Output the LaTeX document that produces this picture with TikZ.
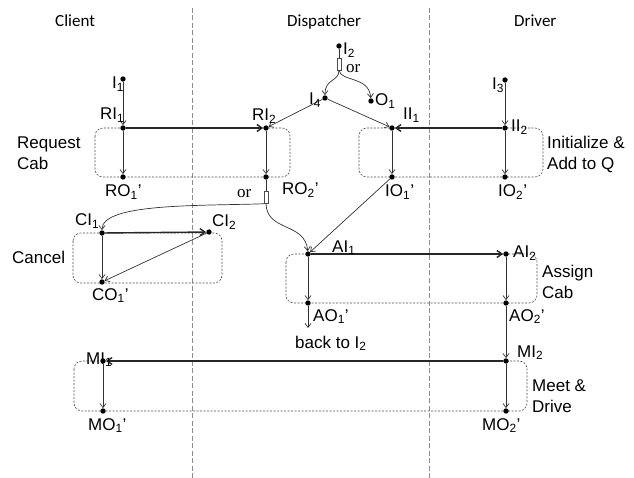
\documentclass[tikz,border=0pt]{standalone}
\usepackage{fontspec}
\setmainfont{Liberation Sans}
\newfontfamily\headfont{Carlito}
\newfontfamily\orfont{Liberation Serif}
\usetikzlibrary{arrows.meta,backgrounds}
\tikzset{
  dot/.style={circle,fill=black,inner sep=0pt,minimum size=5.4pt},
  orbox/.style={rectangle,draw=black!70,fill=white,line width=0.5pt,inner sep=0pt,minimum width=3.5pt,minimum height=12pt},
  lbl/.style={font=\fontsize{17}{21}\selectfont,inner sep=0pt,anchor=base west},
  side/.style={font=\fontsize{17}{21}\selectfont,inner sep=0pt,anchor=west,align=left},
  orlbl/.style={font=\orfont\fontsize{17}{21}\selectfont,inner sep=0pt,anchor=base west},
  head/.style={font=\headfont\fontsize{17}{21}\selectfont,inner sep=0pt,anchor=base west},
  ln/.style={draw=black!80,line width=0.7pt},
  arr/.style={ln,-{Straight Barb[length=4pt,width=6pt]}},
  thickarr/.style={draw=black!85,line width=1.4pt,-{Straight Barb[length=5pt,width=7pt]}},
  taskbox/.style={draw=black!70,dash pattern=on 2pt off 1.5pt,line width=0.6pt,rounded corners=8pt},
  divider/.style={draw=black!45,dash pattern=on 5pt off 2.5pt,line width=0.9pt}
}
\begin{document}
\begin{tikzpicture}[x=1pt,y=-1pt]
\useasboundingbox (0,0) rectangle (634,478);
\node[head] (hClient) at (55,27) {Client};
\node[head] (hDisp) at (287,27) {Dispatcher};
\node[head] (hDriver) at (514,27) {Driver};
\node[dot] (I1) at (123,79) {};
\node[dot] (RI1) at (123,128) {};
\node[dot] (RO1) at (123,177) {};
\node[dot] (RI2) at (266,128) {};
\node[dot] (RO2) at (266,177) {};
\node[dot] (I2) at (339,46) {};
\node[orbox] (orA) at (339,64) {};
\node[dot] (I4) at (325,98) {};
\node[dot] (O1) at (371,101) {};
\node[dot] (II1) at (392,128) {};
\node[dot] (IO1) at (392,177) {};
\node[dot] (I3) at (505,80) {};
\node[dot] (II2) at (505,128) {};
\node[dot] (IO2) at (505,177) {};
\node[orbox] (orB) at (266,197.5) {};
\node[dot] (CI1) at (102,233) {};
\node[dot] (CI2) at (209,232) {};
\node[dot] (CO1) at (102,282) {};
\node[dot] (AI1) at (308,254) {};
\node[dot] (AI2) at (506,254) {};
\node[dot] (AO1) at (308,303) {};
\node[dot] (AO2) at (506,303) {};
\coordinate (back) at (308,328);
\node[dot] (MI1) at (103,361) {};
\node[dot] (MI2) at (506,361) {};
\node[dot] (MO1) at (103,411) {};
\node[dot] (MO2) at (506,411) {};
\begin{scope}[on background layer]
\draw[divider] (192,8) -- (192,478);
\draw[divider] (429,8) -- (429,478);
\draw[taskbox] (95,128) rectangle (290,177);
\draw[taskbox] (359,128) rectangle (543,177);
\draw[taskbox] (73,233) rectangle (222,283);
\draw[taskbox] (286,254) rectangle (537,303);
\draw[taskbox] (74,361) rectangle (527,411);
\end{scope}
\draw[arr] (I1) -- (RI1);
\draw[thickarr] (RI1) -- (RI2);
\draw[arr] (RI1) -- (RO1);
\draw[arr] (RI2) -- (RO2);
\draw[ln] (I2) -- (orA);
\draw[arr] (orA.south) .. controls (339,82) and (325,78) .. (I4);
\draw[arr] (orA.south) .. controls (341,82) and (369,76) .. (O1);
\draw[arr] (I4) -- (RI2);
\draw[arr] (I4) -- (II1);
\draw[thickarr] (II2) -- (II1);
\draw[arr] (I3) -- (II2);
\draw[arr] (II1) -- (IO1);
\draw[arr] (II2) -- (IO2);
\draw[ln] (RO2) -- (orB);
\draw[arr] (orB.south west) .. controls (200,206) and (102,203) .. (CI1);
\draw[arr] (orB.south) .. controls (267,232) and (305,222) .. (AI1);
\draw[arr] (IO1) -- (AI1);
\draw[thickarr] (CI1) -- (CI2);
\draw[arr] (CI1) -- (CO1);
\draw[arr] (CI2) -- (CO1);
\draw[thickarr] (AI1) -- (AI2);
\draw[arr] (AI1) -- (AO1);
\draw[arr] (AI2) -- (AO2);
\draw[arr] (AO1) -- (back);
\draw[arr] (AO2) -- (MI2);
\draw[thickarr] (MI2) -- (MI1);
\draw[arr] (MI1) -- (MO1);
\draw[arr] (MI2) -- (MO2);
\node[lbl] (tI1) at (112,89) {I\textsubscript{1}};
\node[lbl] (tRI1) at (100,120) {RI\textsubscript{1}};
\node[lbl] (tRO1) at (105,197) {RO\textsubscript{1}'};
\node[lbl] (tRI2) at (252,121) {RI\textsubscript{2}};
\node[lbl] (tRO2) at (282,195) {RO\textsubscript{2}'};
\node[lbl] (tI2) at (343,55) {I\textsubscript{2}};
\node[orlbl] (torA) at (346,73) {or};
\node[lbl] (tI4) at (309,105) {I\textsubscript{4}};
\node[lbl] (tO1) at (375,106) {O\textsubscript{1}};
\node[lbl] (tII1) at (403,120) {II\textsubscript{1}};
\node[lbl] (tI3) at (492,90) {I\textsubscript{3}};
\node[lbl] (tII2) at (511,132) {II\textsubscript{2}};
\node[lbl] (tIO1) at (385,197) {IO\textsubscript{1}'};
\node[lbl] (tIO2) at (498,197) {IO\textsubscript{2}'};
\node[orlbl] (torB) at (237,198) {or};
\node[lbl] (tCI1) at (75,226) {CI\textsubscript{1}};
\node[lbl] (tCI2) at (212,227) {CI\textsubscript{2}};
\node[lbl] (tCO1) at (92,300) {CO\textsubscript{1}'};
\node[lbl] (tAI1) at (332,252) {AI\textsubscript{1}};
\node[lbl] (tAI2) at (513,258) {AI\textsubscript{2}};
\node[lbl] (tAO1) at (313,321) {AO\textsubscript{1}'};
\node[lbl] (tAO2) at (509,321) {AO\textsubscript{2}'};
\node[lbl] (tback) at (295,348) {back to I\textsubscript{2}};
\node[lbl] (tMI1) at (86,364) {MI\textsubscript{1}};
\node[lbl] (tMI2) at (517,357) {MI\textsubscript{2}};
\node[lbl] (tMO1) at (88,430) {MO\textsubscript{1}'};
\node[lbl] (tMO2) at (482,430) {MO\textsubscript{2}'};
\node[side] (sRequest) at (17,153) {Request\\Cab};
\node[side] (sInit) at (547,154) {Initialize \&\\Add to Q};
\node[lbl] (sCancel) at (12,263) {Cancel};
\node[side] (sAssign) at (542,282) {Assign\\Cab};
\node[side] (sMeet) at (532,396) {Meet \&\\Drive};
\end{tikzpicture}
\end{document}
